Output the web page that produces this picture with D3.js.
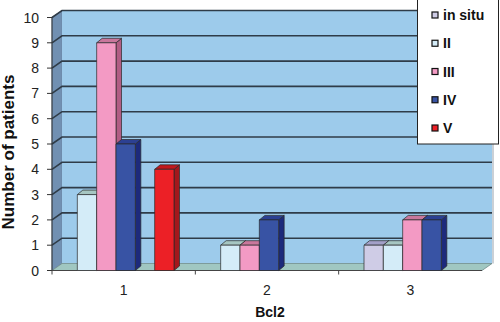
<!DOCTYPE html>
<html>
<head>
<meta charset="utf-8">
<script src="https://cdn.jsdelivr.net/npm/d3@7"></script>
<style>
  body { margin: 0; background: #fff; }
  svg { display: block; font-family: "Liberation Sans", Arial, sans-serif; }
</style>
</head>
<body>
<div id="chart"></div>
<script>
var categories = ["1", "2", "3"];
var seriesNames = ["in situ", "II", "III", "IV", "V"];
var inSitu = [0, 0, 1];
var stageII = [3, 1, 1];
var stageIII = [9, 1, 2];
var stageIV = [5, 2, 2];
var stageV = [4, 0, 0];
var yTicks = [0, 1, 2, 3, 4, 5, 6, 7, 8, 9, 10];

// column order of each cluster as laid out in the sheet ("" = empty column)
var clusterColumns = [
  ["", "II", "III", "IV", "", "V", ""],
  ["", "II", "III", "IV", "", "", ""],
  ["", "in situ", "II", "III", "IV", "", ""]
];

var seriesValues = {
  "in situ": inSitu, "II": stageII, "III": stageIII, "IV": stageIV, "V": stageV
};
var frontColor = { "in situ": "#cfcce6", "II": "#d4ecf8", "III": "#f39ac4", "IV": "#3853a4", "V": "#ec2026" };
var topColor = { "in situ": "#a3a0c8", "II": "#a6c6c2", "III": "#c9779c", "IV": "#2c4092", "V": "#c2181d" };
var sideColor = { "in situ": "#9c98c0", "II": "#9dbccb", "III": "#b25d84", "IV": "#1d2a7c", "V": "#a3181c" };

var width = 500, height = 322;
var plotLeft = 52, plotRight = 482, plotBottom = 270.5, plotTop = 17.5;
var depthX = 10, depthY = -7;
var barDX = 5.5, barDY = -4.5;

var svg = d3.select("#chart").append("svg")
  .attr("width", width).attr("height", height);

var x = d3.scaleBand().domain(categories).range([plotLeft, plotRight]);
var slot = d3.scaleBand().domain(d3.range(7)).range([6, x.bandwidth() - 2]);
var y = d3.scaleLinear().domain([0, 10]).range([plotBottom, plotTop]);

// walls and floor
svg.append("polygon")
  .attr("points", [[plotLeft, y(0)], [plotLeft + depthX, y(0) + depthY], [plotLeft + depthX, y(10) + depthY], [plotLeft, y(10)]].join(" "))
  .attr("fill", "#7190b2").attr("stroke", "#6a86a4").attr("stroke-width", 0.8);
svg.append("rect")
  .attr("x", plotLeft + depthX).attr("y", y(10) + depthY)
  .attr("width", plotRight - plotLeft).attr("height", y(0) - y(10))
  .attr("fill", "#9dcbeb");
svg.append("line")
  .attr("x1", plotRight + depthX + 1).attr("x2", plotRight + depthX + 1)
  .attr("y1", y(10) + depthY).attr("y2", y(0) + depthY)
  .attr("stroke", "#b8c0c8").attr("stroke-width", 1.5);
svg.append("polygon")
  .attr("points", [[plotLeft, y(0)], [plotRight, y(0)], [plotRight + depthX, y(0) + depthY], [plotLeft + depthX, y(0) + depthY]].join(" "))
  .attr("fill", "#a0c7c1").attr("stroke", "#6f8c8a").attr("stroke-width", 0.8);

// gridlines
var grid = svg.append("g").attr("stroke", "#2f3c48").attr("stroke-width", 1.6).attr("fill", "none");
yTicks.filter(function (t) { return t > 0; }).forEach(function (t) {
  grid.append("polyline")
    .attr("points", [[plotLeft, y(t)], [plotLeft + depthX, y(t) + depthY], [plotRight + depthX, y(t) + depthY]].join(" "));
});

// y axis
var yAxis = svg.append("g");
yAxis.append("line")
  .attr("x1", plotLeft).attr("x2", plotLeft).attr("y1", y(0)).attr("y2", y(10))
  .attr("stroke", "#333").attr("stroke-width", 1);
yTicks.forEach(function (t) {
  yAxis.append("line")
    .attr("x1", plotLeft - 5).attr("x2", plotLeft).attr("y1", y(t)).attr("y2", y(t))
    .attr("stroke", "#333").attr("stroke-width", 1);
  yAxis.append("text")
    .attr("x", 39).attr("y", y(t)).attr("dy", "0.36em")
    .attr("text-anchor", "end").attr("font-size", 14).attr("fill", "#222")
    .text(t);
});

// x axis
var xAxis = svg.append("g");
xAxis.append("line")
  .attr("x1", plotLeft).attr("x2", plotRight).attr("y1", y(0)).attr("y2", y(0))
  .attr("stroke", "#444").attr("stroke-width", 1);
categories.forEach(function (c, i) {
  var bx = x(c);
  xAxis.append("line")
    .attr("x1", bx).attr("x2", bx).attr("y1", y(0)).attr("y2", y(0) + 4)
    .attr("stroke", "#444");
  xAxis.append("text")
    .attr("x", bx + x.bandwidth() / 2).attr("y", 290).attr("dy", "0.36em")
    .attr("text-anchor", "middle").attr("font-size", 14).attr("fill", "#222")
    .text(c);
});

// bars
var bars = [];
categories.forEach(function (c, i) {
  clusterColumns[i].forEach(function (name, j) {
    if (!name) return;
    var v = seriesValues[name][i];
    if (!v) return;
    bars.push({ name: name, value: v, x0: x(c) + slot(j), w: slot.bandwidth() });
  });
});
bars.sort(function (a, b) { return a.x0 - b.x0; });

var barG = svg.append("g").attr("stroke", "#2a2a2a").attr("stroke-width", 0.7).attr("stroke-linejoin", "round");
bars.forEach(function (d) {
  var x0 = d.x0, x1 = d.x0 + d.w, y0 = y(0), y1 = y(d.value);
  barG.append("polygon")
    .attr("points", [[x1, y0], [x1 + barDX, y0 + barDY], [x1 + barDX, y1 + barDY], [x1, y1]].join(" "))
    .attr("fill", sideColor[d.name]);
  barG.append("polygon")
    .attr("points", [[x0, y1], [x1, y1], [x1 + barDX, y1 + barDY], [x0 + barDX, y1 + barDY]].join(" "))
    .attr("fill", topColor[d.name]);
  barG.append("rect")
    .attr("x", x0).attr("y", y1).attr("width", d.w).attr("height", y0 - y1)
    .attr("fill", frontColor[d.name]);
});

// axis titles
svg.append("text")
  .attr("transform", "translate(14,152) rotate(-90)")
  .attr("text-anchor", "middle").attr("font-size", 17).attr("font-weight", "bold").attr("fill", "#111")
  .text("Number of patients");
svg.append("text")
  .attr("x", 270).attr("y", 317)
  .attr("text-anchor", "middle").attr("font-size", 14).attr("font-weight", "bold").attr("fill", "#111")
  .text("Bcl2");

// legend
var legend = svg.append("g");
legend.append("rect")
  .attr("x", 417.5).attr("y", -1).attr("width", 81).attr("height", 145)
  .attr("fill", "#fff").attr("stroke", "#222").attr("stroke-width", 1);
var ly = d3.scalePoint().domain(seriesNames).range([15, 128]);
seriesNames.forEach(function (name) {
  legend.append("rect")
    .attr("x", 432).attr("y", ly(name) - 3).attr("width", 6).attr("height", 6)
    .attr("fill", frontColor[name]).attr("stroke", "#111").attr("stroke-width", 1.2);
  legend.append("text")
    .attr("x", 443).attr("y", ly(name)).attr("dy", "0.36em")
    .attr("font-size", 14).attr("font-weight", "bold").attr("fill", "#111")
    .text(name);
});
</script>
</body>
</html>
